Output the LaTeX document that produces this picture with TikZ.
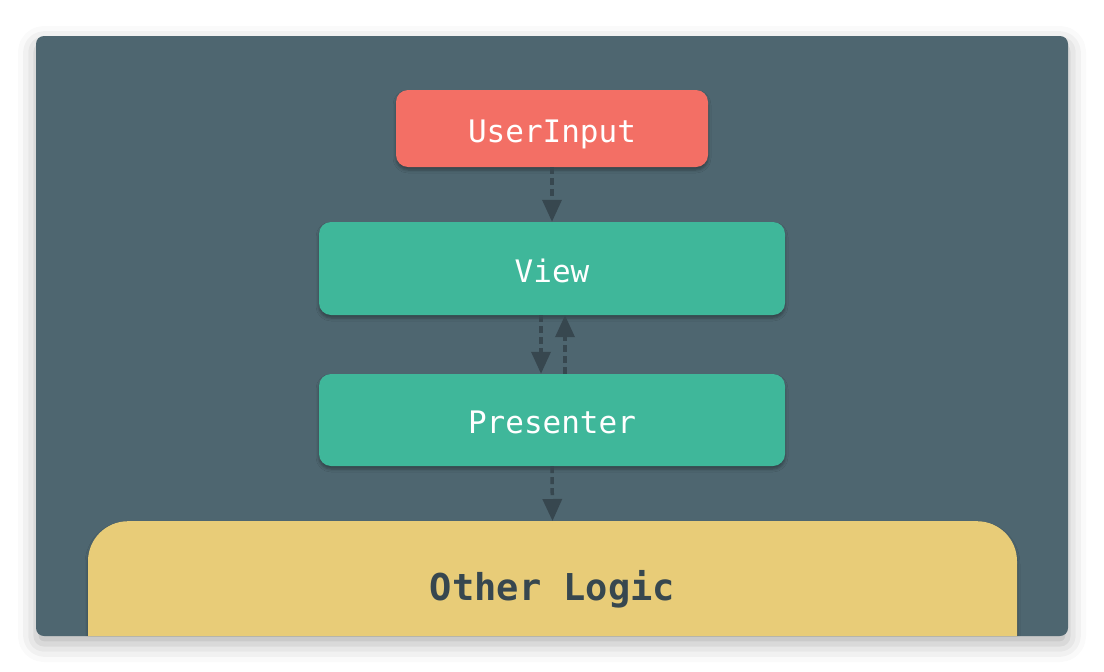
\documentclass[tikz,border=0pt]{standalone}
\usepackage{fontspec}
\newfontfamily\codefont{DejaVu Sans Mono}
\usetikzlibrary{positioning, arrows.meta, shadows.blur}

\definecolor{panelgrey}{HTML}{4E6670}
\definecolor{inputred}{HTML}{F36F65}
\definecolor{mvpgreen}{HTML}{3FB79A}
\definecolor{logicyellow}{HTML}{E8CC78}
\definecolor{arrowdark}{HTML}{37474F}

\tikzset{
	box/.style={rounded corners=12pt, text=white, font=\codefont\fontsize{31}{31}\selectfont,
		inner sep=0pt, text height=27pt, text depth=0pt,
		blur shadow={shadow xshift=0pt, shadow yshift=-3pt, shadow blur radius=3pt, shadow opacity=35}},
	flow/.style={draw=arrowdark, line width=3.5pt, dash pattern=on 7pt off 4pt,
		-{Triangle[width=19pt,length=22pt]}}
}

\begin{document}
\begin{tikzpicture}[x=1pt,y=-1pt]
		\useasboundingbox (0,0) rectangle (1104,672);
		
		\fill[panelgrey, rounded corners=8pt, blur shadow={shadow xshift=0pt, shadow yshift=-8pt, shadow blur radius=18pt, shadow opacity=30}] (36,36) rectangle (1068,636);
		
		\begin{scope}
			\clip[rounded corners=8pt] (36,36) rectangle (1068,636);
			% tall box, cut off by the panel
			\node[box, fill=logicyellow, rounded corners=40pt, minimum width=929pt, anchor=north,
				text height=79pt, text depth=120pt, text=arrowdark,
				font=\codefont\bfseries\fontsize{37}{37}\selectfont] (logic) at (552.5,521) {Other Logic};
		\end{scope}
		
		\node[box, fill=inputred, minimum width=312pt, minimum height=77pt] (userinput) at (552,128.5) {UserInput};
		\node[box, fill=mvpgreen, minimum width=466pt, minimum height=93pt] (view) at (552,268.5) {View};
		\node[box, fill=mvpgreen, minimum width=466pt, minimum height=92pt] (presenter) at (552,420) {Presenter};
		
		\draw[flow] (userinput.south) -- (view.north);
		\draw[flow] ([xshift=-11pt]view.south) -- ([xshift=-11pt]presenter.north);
		\draw[flow] ([xshift=13pt]presenter.north) -- ([xshift=13pt]view.south);
		\draw[flow] (presenter.south) -- (logic.north);
	\end{tikzpicture}
\end{document}
